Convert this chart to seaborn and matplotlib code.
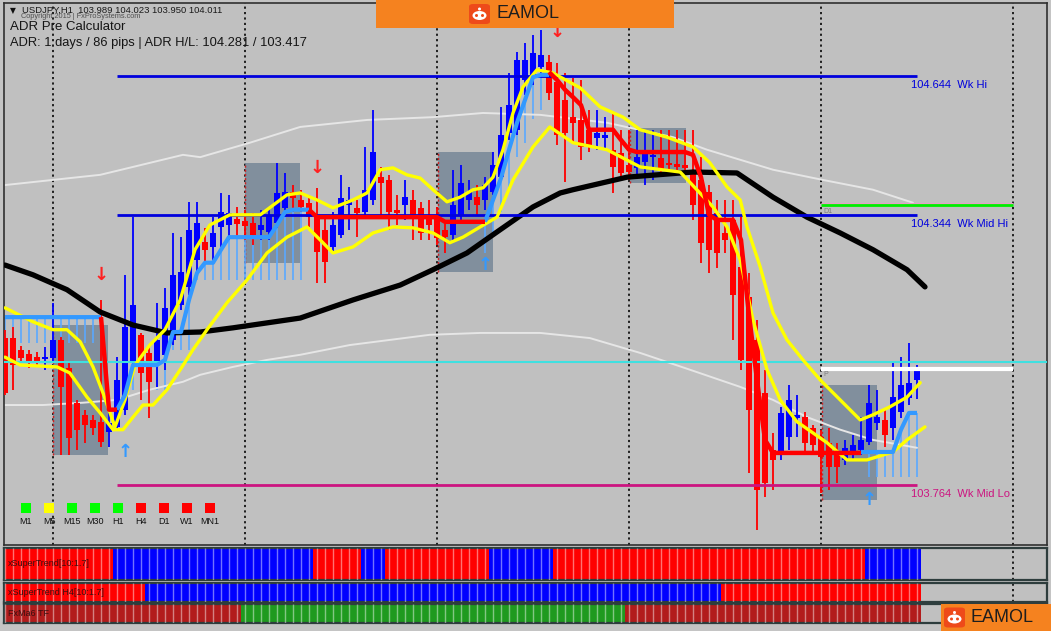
import numpy as np
import pandas as pd
import matplotlib
matplotlib.use("Agg")
import matplotlib.pyplot as plt
import seaborn as sns
from matplotlib.patches import Rectangle, FancyBboxPatch, Ellipse

sns.set_style("white")
plt.rcParams['font.family'] = ['Liberation Sans', 'DejaVu Sans']

# ---------------- data ----------------
symbol = "USDJPY,H1"
opens = [104.080, 104.080, 104.055, 104.046, 104.039, 104.035, 104.037, 104.076, 104.016, 103.941,
         103.915, 103.904, 103.900, 103.878, 103.889, 103.926, 104.027, 104.087, 104.048, 104.022,
         104.044, 104.076, 104.151, 104.190, 104.248, 104.287, 104.276, 104.319, 104.323, 104.336,
         104.332, 104.328, 104.313, 104.308, 104.328, 104.360, 104.394, 104.377, 104.371, 104.345,
         104.313, 104.276, 104.302, 104.366, 104.360, 104.351, 104.377, 104.426, 104.420, 104.356,
         104.366, 104.377, 104.360, 104.340, 104.338, 104.313, 104.302, 104.345, 104.377, 104.383,
         104.377, 104.394, 104.426, 104.521, 104.528, 104.635, 104.641, 104.663, 104.674, 104.631,
         104.592, 104.555, 104.549, 104.528, 104.510, 104.510, 104.485, 104.478, 104.452, 104.446,
         104.459, 104.469, 104.467, 104.457, 104.454, 104.452, 104.437, 104.420, 104.394, 104.349,
         104.306, 104.334, 104.233, 104.168, 104.076, 103.962, 103.840, 103.833, 103.867, 103.908,
         103.910, 103.887, 103.867, 103.855, 103.833, 103.818, 103.833, 103.840, 103.857, 103.898,
         103.904, 103.887, 103.921, 103.951, 103.989]
highs = [104.098, 104.104, 104.063, 104.055, 104.050, 104.061, 104.156, 104.082, 104.027, 103.947,
         103.926, 103.915, 104.162, 103.926, 104.039, 104.216, 104.340, 104.091, 104.065, 104.156,
         104.188, 104.306, 104.297, 104.373, 104.373, 104.317, 104.340, 104.392, 104.388, 104.362,
         104.356, 104.349, 104.356, 104.362, 104.457, 104.435, 104.409, 104.399, 104.388, 104.403,
         104.338, 104.351, 104.431, 104.405, 104.377, 104.491, 104.571, 104.448, 104.431, 104.388,
         104.420, 104.399, 104.373, 104.377, 104.362, 104.334, 104.442, 104.452, 104.420, 104.409,
         104.426, 104.480, 104.577, 104.650, 104.695, 104.715, 104.732, 104.743, 104.689, 104.672,
         104.650, 104.639, 104.635, 104.571, 104.571, 104.555, 104.564, 104.528, 104.528, 104.528,
         104.528, 104.528, 104.528, 104.528, 104.528, 104.528, 104.528, 104.469, 104.409, 104.377,
         104.377, 104.377, 104.340, 104.220, 104.119, 104.012, 103.876, 103.932, 103.979, 103.958,
         103.921, 103.893, 103.883, 103.887, 103.855, 103.861, 103.872, 103.910, 103.979, 103.969,
         103.926, 104.027, 104.039, 104.070, 104.023]
lows = [103.958, 103.969, 104.029, 104.016, 104.020, 104.012, 104.027, 103.829, 103.829, 103.840,
        103.855, 103.872, 103.846, 103.846, 103.883, 103.915, 104.016, 103.947, 103.908, 103.975,
        104.012, 104.065, 104.141, 104.173, 104.216, 104.244, 104.248, 104.276, 104.291, 104.297,
        104.291, 104.280, 104.291, 104.291, 104.317, 104.345, 104.351, 104.351, 104.319, 104.199,
        104.199, 104.263, 104.295, 104.313, 104.297, 104.345, 104.366, 104.345, 104.313, 104.323,
        104.334, 104.291, 104.291, 104.291, 104.280, 104.263, 104.291, 104.334, 104.356, 104.345,
        104.356, 104.388, 104.420, 104.506, 104.517, 104.603, 104.624, 104.646, 104.592, 104.495,
        104.416, 104.500, 104.463, 104.480, 104.485, 104.485, 104.392, 104.424, 104.420, 104.426,
        104.409, 104.420, 104.435, 104.437, 104.437, 104.437, 104.334, 104.242, 104.220, 104.231,
        104.263, 104.076, 104.012, 103.790, 103.668, 103.738, 103.754, 103.818, 103.840, 103.867,
        103.833, 103.833, 103.747, 103.754, 103.769, 103.807, 103.818, 103.829, 103.850, 103.883,
        103.846, 103.861, 103.908, 103.936, 103.950]
closes = [103.962, 104.022, 104.037, 104.029, 104.029, 104.039, 104.076, 103.975, 103.865, 103.883,
          103.893, 103.887, 103.857, 103.898, 103.990, 104.104, 104.151, 104.005, 103.986, 104.076,
          104.145, 104.216, 104.222, 104.313, 104.328, 104.270, 104.306, 104.351, 104.349, 104.325,
          104.321, 104.302, 104.323, 104.345, 104.392, 104.394, 104.381, 104.362, 104.340, 104.265,
          104.244, 104.323, 104.381, 104.377, 104.349, 104.399, 104.480, 104.414, 104.351, 104.349,
          104.383, 104.345, 104.306, 104.323, 104.295, 104.297, 104.366, 104.414, 104.394, 104.366,
          104.409, 104.452, 104.517, 104.581, 104.678, 104.678, 104.693, 104.689, 104.607, 104.517,
          104.521, 104.543, 104.491, 104.491, 104.521, 104.517, 104.448, 104.435, 104.437, 104.469,
          104.478, 104.474, 104.442, 104.452, 104.448, 104.446, 104.366, 104.285, 104.270, 104.263,
          104.291, 104.173, 104.033, 103.926, 103.754, 103.769, 103.818, 103.919, 103.947, 103.915,
          103.855, 103.850, 103.824, 103.803, 103.803, 103.844, 103.850, 103.861, 103.941, 103.910,
          103.872, 103.953, 103.979, 103.984, 104.011]

nan = np.nan
st_blue = ([104.125] * 13 + [nan] + [103.926, 103.958] + [104.022] * 4 + [104.033] + [104.093] * 2
           + [104.162, 104.220] + [104.242] * 2 + [104.270] + [104.297] * 6 + [104.323, 104.351]
           + [104.356] * 3 + [nan] * 21
           + [104.330, 104.377, 104.424, 104.485, 104.543, 104.592, 104.641, 104.646, 104.646]
           + [nan] * 38 + [103.835] * 5 + [103.883, 103.919, 103.919])
st_red = ([nan] * 12 + [104.125, 103.926, 103.926] + [nan] * 23 + [104.356] + [104.340] * 16
          + [104.330] * 6 + [nan] * 7 + [104.652, 104.635, 104.614, 104.598, 104.581]
          + [104.528] * 4 + [104.506, 104.485] + [104.480] * 7 + [104.474, 104.426, 104.345]
          + [104.334] * 3 + [104.291, 104.130, 103.990, 103.861] + [103.833] * 12 + [nan] * 7)
st_hatch = ([104.070] * 12 + [nan] * 3 + [103.969] * 6 + [104.055] * 3 + [104.205] * 14 + [nan] * 22
            + [104.263, 104.297, 104.350, 104.400, 104.470, 104.500, 104.550, 104.570]
            + [nan] * 40 + [103.782] * 7)

ma_idx = [0, 3.5, 7.75, 11.9, 16, 20.25, 24.4, 28.5, 36.9, 43.5, 49.4, 53.5, 57.75, 61.9, 66, 69.4,
          71, 77.75, 86, 91.5, 96, 100.25, 104.4, 108.5, 112.75, 115]
ma_val = [104.237, 104.216, 104.184, 104.136, 104.108, 104.091, 104.093, 104.102, 104.123, 104.162,
          104.194, 104.227, 104.263, 104.313, 104.362, 104.392, 104.399, 104.426, 104.437, 104.435,
          104.383, 104.340, 104.306, 104.270, 104.227, 104.190]

band_up_idx = [0, 3.5, 6, 7.75, 9.4, 11, 12.25, 13.75, 15, 16.25, 18.1, 20, 21.9, 23.75, 25.6, 28.1,
               31.9, 35.25, 36.9, 39, 41, 43.5, 45.25, 46.9, 48.5, 50.25, 51.9, 53.5, 55.25, 56.9,
               58.5, 59.75, 61, 62.25, 63.5, 64.75, 66.5, 68.5, 71.9, 74.4, 77.25, 79.4, 82.75, 86,
               88.1, 90.25, 91.9, 92.75, 94.4, 96, 97.75, 99.75, 101.9, 104.4, 106.9, 108.5, 110.6,
               112.75, 114.4]
band_up_val = [104.145, 104.115, 104.098, 104.098, 104.072, 104.018, 103.962, 103.889, 103.947,
               104.022, 104.065, 104.098, 104.162, 104.270, 104.323, 104.345, 104.345, 104.388,
               104.392, 104.377, 104.360, 104.377, 104.392, 104.442, 104.446, 104.431, 104.424,
               104.399, 104.373, 104.383, 104.399, 104.403, 104.426, 104.485, 104.564, 104.620,
               104.657, 104.650, 104.618, 104.577, 104.555, 104.528, 104.512, 104.491, 104.457,
               104.405, 104.377, 104.319, 104.233, 104.134, 104.076, 104.033, 103.990, 103.947,
               103.904, 103.915, 103.932, 103.953, 103.984]
band_lo_idx = [0, 1.9, 6.5, 8.1, 10.25, 11.9, 13.5, 14.75, 16, 17.25, 18.5, 20.25, 21.9, 23.5, 25.25,
               27.75, 30.25, 32.75, 35.25, 37.75, 39.4, 41, 43.5, 46, 48.5, 51, 53.5, 55.6, 57.25,
               59.4, 61.5, 63.5, 66, 68.1, 71, 75.25, 79.4, 84.4, 88.5, 90.25, 91.9, 93.5, 95.25,
               96.9, 99, 102.75, 105.25, 107.75, 111, 112.75, 115]
band_lo_val = [104.039, 104.022, 104.018, 104.005, 103.953, 103.919, 103.883, 103.883, 103.910,
               103.936, 103.936, 103.969, 104.012, 104.055, 104.098, 104.156, 104.205, 104.263,
               104.297, 104.319, 104.291, 104.263, 104.276, 104.306, 104.319, 104.317, 104.306,
               104.285, 104.297, 104.319, 104.340, 104.420, 104.491, 104.534, 104.500, 104.485,
               104.448, 104.437, 104.362, 104.319, 104.248, 104.119, 104.012, 103.947, 103.900,
               103.855, 103.818, 103.818, 103.835, 103.861, 103.889]

env_up_idx = [0, 11.9, 16, 22.25, 24.4, 30.6, 36.9, 45.25, 53.5, 59.75, 66.9, 75.25, 83.5, 87.75,
              96, 102.25, 108.5, 113.5]
env_up_val = [104.409, 104.431, 104.448, 104.474, 104.469, 104.500, 104.534, 104.549, 104.555,
              104.564, 104.560, 104.543, 104.512, 104.485, 104.442, 104.420, 104.399, 104.371]
env_lo_idx = [0, 4.75, 9.75, 14, 18.1, 22.25, 24.4, 28.5, 32.75, 36.9, 43.1, 53.1, 59.4, 66.9,
              73.1, 79.4, 85.6, 91.9, 96, 100.25, 104.4, 108.5, 114]
env_lo_val = [103.936, 103.936, 103.941, 103.947, 103.969, 103.986, 104.001, 104.018, 104.033,
              104.044, 104.065, 104.087, 104.091, 104.091, 104.080, 104.048, 104.012, 103.975,
              103.947, 103.910, 103.883, 103.861, 103.844]

level_names = ["Wk Hi", "Wk Mid Hi", "Wk Mid Lo"]
level_values = [104.644, 104.344, 103.764]
level_colors = ["#0000dd", "#0000dd", "#cc1480"]
cyan_level = 104.029
bid_level = 104.014
d1_level = 104.366

box_left = [6.0, 30.0, 54.1, 78.1, 102.1]
box_right = [12.9, 36.9, 61.0, 85.1, 109.0]
box_hi = [104.108, 104.457, 104.480, 104.532, 103.979]
box_lo = [103.829, 104.242, 104.222, 104.414, 103.732]

arrow_dn_idx = [12, 39, 69]
arrow_dn_val = [104.216, 104.446, 104.738]
arrow_up_idx = [15, 60, 108]
arrow_up_val = [103.835, 104.237, 103.732]

day_starts = [6, 30, 54, 78, 102, 126]

strip_names = ["xSuperTrend[10:1.7]", "xSuperTrend H4[10:1.7]", "FxMa6 TF"]
strip1_runs = [("dn", 14), ("up", 25), ("dn", 6), ("up", 3), ("dn", 13), ("up", 8), ("dn", 39), ("up", 7)]
strip2_runs = [("dn", 18), ("up", 72), ("dn", 25)]
strip3_runs = [("dn", 30), ("up", 48), ("dn", 37)]

tf_names = ["M1", "M5", "M15", "M30", "H1", "H4", "D1", "W1", "MN1"]
tf_state = ["up", "flat", "up", "up", "up", "dn", "dn", "dn", "dn"]

adr_days, adr_pips, adr_hi, adr_lo = 1, 86, 104.281, 103.417

# ---------------- figure ----------------
W, H = 1051, 631
BG = "#c0c0c0"
BLUE, RED, LBLUE = "#0000ff", "#ff0000", "#3399ff"

fig = plt.figure(figsize=(W / 100, H / 100), dpi=100, facecolor="#c4c4c4")


def frac_box(x0, y0, x1, y1):
    return [x0 / W, 1 - y1 / H, (x1 - x0) / W, (y1 - y0) / H]


ax = fig.add_axes(frac_box(4, 3, 1047, 545))
ax.set_facecolor(BG)
xlim = (-0.125, 130.25)
ax.set_xlim(*xlim)
ax.set_ylim(103.635, 104.8005)
ax.set_xticks(day_starts)
ax.set_yticks([])
ax.tick_params(length=0, labelbottom=False)
ax.set_axisbelow(True)
ax.grid(True, axis="x", color="#111111", linestyle=(0, (1.2, 1.8)), lw=1.3)
for s in ax.spines.values():
    s.set_color("#303030")
    s.set_linewidth(1.2)

idx = np.arange(len(opens))
o, h, l, c = map(np.array, (opens, highs, lows, closes))

# session boxes
for x0, x1, lo, hi in zip(box_left, box_right, box_lo, box_hi):
    ax.add_patch(Rectangle((x0, lo), x1 - x0, hi - lo, facecolor="#6c7f92", alpha=0.75,
                           edgecolor="none", zorder=1))
    ax.plot([x0, x0], [lo, hi], color="#d02020", lw=1, ls=(0, (1.5, 1.5)), zorder=1.2)

# supertrend hatch
sb = np.array(st_blue)
hb = np.array(st_hatch)
mask = ~np.isnan(sb) & ~np.isnan(hb)
ax.vlines(idx[mask], hb[mask], sb[mask], colors="#5aa8ff", lw=1.2, zorder=2)

# white envelopes
sns.lineplot(x=env_up_idx, y=env_up_val, ax=ax, color="#e6e6e6", lw=1.4, sort=False, estimator=None, zorder=2.5)
sns.lineplot(x=env_lo_idx, y=env_lo_val, ax=ax, color="#e6e6e6", lw=1.4, sort=False, estimator=None, zorder=2.5)

# candles
up = c >= o
col = np.where(up, BLUE, RED)
ax.vlines(idx, l, h, colors=col, lw=1.3, zorder=3)
ax.bar(idx, np.maximum(np.abs(c - o), 0.004), bottom=np.minimum(o, c), width=0.74,
       color=col, linewidth=0, zorder=3.5)

# black MA
sns.lineplot(x=ma_idx, y=ma_val, ax=ax, color="black", lw=3.8, sort=False, estimator=None, zorder=4)

# levels
for name, v, cc in zip(level_names, level_values, level_colors):
    ax.hlines(v, 14, 114, color=cc, lw=2.0, zorder=4.5)
    ax.annotate(f"{v:.3f}  {name}", xy=(114, v), xytext=(-4, -3), textcoords="offset points",
                ha="left", va="top", color=cc, fontsize=8, zorder=9)
ax.axhline(cyan_level, color="#3fe0e0", lw=1.5, zorder=4.5)
ax.hlines(bid_level, 102, 126, color="white", lw=3, zorder=4.6)
ax.hlines(d1_level + 0.004, 102, 126, color="#e8a0c8", lw=0.8, zorder=4.5)
ax.hlines(d1_level, 102, 126, color="#00ee00", lw=2.0, zorder=4.6)
ax.text(102.3, d1_level - 0.006, "D1", fontsize=5, color="#7a7a7a", va="top", zorder=9)
ax.text(102.3, bid_level - 0.005, "P", fontsize=5, color="#7a7a7a", va="top", zorder=9)

# yellow bands
sns.lineplot(x=band_up_idx, y=band_up_val, ax=ax, color="#ffff00", lw=2.4, sort=False, estimator=None, zorder=5)
sns.lineplot(x=band_lo_idx, y=band_lo_val, ax=ax, color="#ffff00", lw=2.4, sort=False, estimator=None, zorder=5)

# supertrend line
ax.plot(idx, st_blue, color=LBLUE, lw=3.0, zorder=6, solid_capstyle="butt")
ax.plot(idx, st_red, color=RED, lw=3.2, zorder=6.1, solid_capstyle="butt")

# arrows
for i, v in zip(arrow_dn_idx, arrow_dn_val):
    ax.text(i, v, "\u2193", color="#ff2020", fontsize=13, fontweight="bold", ha="center", va="center",
            family="DejaVu Sans", zorder=8)
for i, v in zip(arrow_up_idx, arrow_up_val):
    ax.text(i, v, "\u2191", color="#3399ff", fontsize=13, fontweight="bold", ha="center", va="center",
            family="DejaVu Sans", zorder=8)
ax.set_xlabel("")
ax.set_ylabel("")

# header texts
ax.text(0.006, 0.987, "\u25bc", transform=ax.transAxes, fontsize=5.5, color="#111", va="center",
        family=["DejaVu Sans"])
ax.text(0.017, 0.987, f"{symbol}  {opens[-1]:.3f} {highs[-1]:.3f} {lows[-1]:.3f} {closes[-1]:.3f}",
        transform=ax.transAxes, fontsize=6.8, color="#1a1a1a", va="center")
ax.text(0.016, 0.9745, "Copyright 2015 | FxProSystems.com", transform=ax.transAxes, fontsize=5.3,
        color="#505050", va="center")
ax.text(0.006, 0.9555, "ADR Pre Calculator", transform=ax.transAxes, fontsize=9.5, color="#151515", va="center")
ax.text(0.006, 0.926, f"ADR: {adr_days} days / {adr_pips} pips | ADR H/L: {adr_hi:.3f} / {adr_lo:.3f}",
        transform=ax.transAxes, fontsize=9.3, color="#151515", va="center")

# timeframe legend
tf_colors = {"up": "#00ff00", "flat": "#ffff00", "dn": "#ff0000"}
for k, (name, st) in enumerate(zip(tf_names, tf_state)):
    xc = (26 + 23 * k - 4) / 1043
    ax.add_patch(Rectangle((xc - 5 / 1043, (545 - 513) / 542), 10 / 1043, 10 / 542,
                           transform=ax.transAxes, facecolor=tf_colors[st], edgecolor="none", zorder=9))
    ax.text(xc, (545 - 521) / 542, name, transform=ax.transAxes, ha="center", va="center",
            fontsize=6.5, color="#111", zorder=9)

# indicator strips
strip_boxes = [(548, 580), (583, 602), (604, 623)]
strip_runs = [strip1_runs, strip2_runs, strip3_runs]
strip_cols = [{"dn": "#ff0000", "up": "#0000ff"}, {"dn": "#ff0000", "up": "#0000ff"},
              {"dn": "#b21c1c", "up": "#1f9a1f"}]
for (y0, y1), runs, cmap, name in zip(strip_boxes, strip_runs, strip_cols, strip_names):
    sax = fig.add_axes(frac_box(4, y0, 1047, y1))
    sax.set_facecolor(BG)
    sax.set_xlim(*xlim)
    sax.set_ylim(0, 1)
    sax.set_xticks(day_starts)
    sax.set_yticks([])
    sax.tick_params(length=0, labelbottom=False)
    sax.set_axisbelow(True)
    sax.grid(True, axis="x", color="#111111", linestyle=(0, (1.2, 1.8)), lw=1.3)
    states = [s for s, n in runs for _ in range(n)]
    cols = [cmap[s] for s in states]
    sns.barplot(x=np.arange(len(states)), y=np.ones(len(states)), ax=sax, palette=cols,
                hue=np.arange(len(states)), legend=False, width=1.0, native_scale=True,
                linewidth=0, saturation=1)
    sax.vlines(np.arange(len(states)), 0, 1, colors="white", alpha=0.45, lw=1.0, zorder=5)
    sax.set_xlim(*xlim)
    sax.set_ylim(0, 1)
    sax.set_xlabel("")
    sax.set_ylabel("")
    sax.text(0.004, 0.5, name, transform=sax.transAxes, fontsize=6.5, color="#3a1010", va="center", zorder=9)
    for s in sax.spines.values():
        s.set_color("#2e3d3d")
        s.set_linewidth(1.6)


# banners
def banner(x0, y0, x1, y1, ix0, tx):
    fig.patches.append(Rectangle((x0 / W, 1 - y1 / H), (x1 - x0) / W, (y1 - y0) / H,
                                 transform=fig.transFigure, facecolor="#f5821f", edgecolor="none", zorder=20))
    cy = (y0 + y1) / 2
    fig.patches.append(FancyBboxPatch((ix0 / W, 1 - (cy + 10) / H), 21 / W, 20 / H,
                                      boxstyle="round,pad=0,rounding_size=0.004",
                                      transform=fig.transFigure, facecolor="#ee4a1a", edgecolor="none", zorder=21))
    fig.patches.append(Ellipse(((ix0 + 10.5) / W, 1 - (cy + 1.5) / H), 14 / W, 9 / H,
                               transform=fig.transFigure, facecolor="white", edgecolor="none", zorder=22))
    fig.patches.append(Ellipse(((ix0 + 10.5) / W, 1 - (cy - 5) / H), 3 / W, 3 / H,
                               transform=fig.transFigure, facecolor="white", edgecolor="none", zorder=22))
    for dx in (-3, 3):
        fig.patches.append(Ellipse(((ix0 + 10.5 + dx) / W, 1 - (cy + 1.5) / H), 3 / W, 3 / H,
                                   transform=fig.transFigure, facecolor="#ee4a1a", edgecolor="none", zorder=23))
    fig.text(tx / W, 1 - cy / H, "EAMOL", fontsize=13, color="#1e1e1e", va="center", ha="left", zorder=24)


banner(376, 0, 674, 28, 469, 496)
banner(941, 604, 1051, 631, 944, 971)

fig.savefig("out.png", dpi=100, facecolor=fig.get_facecolor())
